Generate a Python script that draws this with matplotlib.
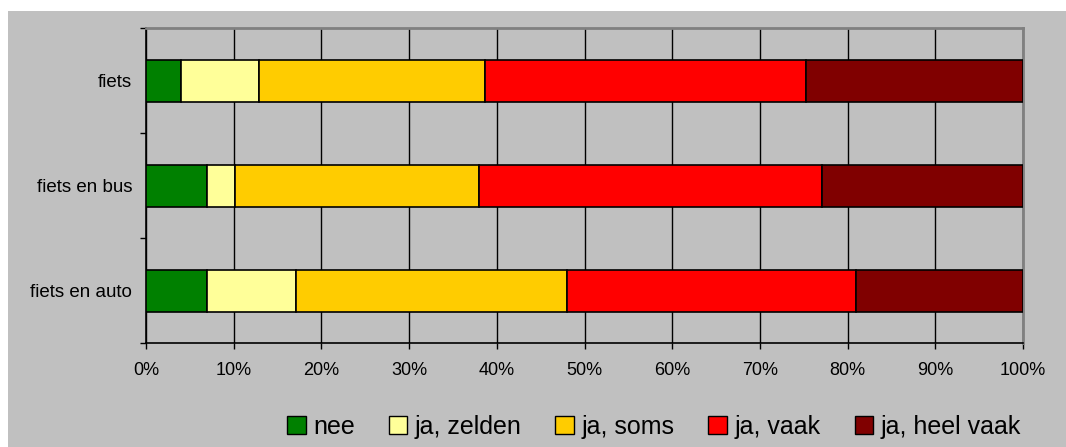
import numpy as np
import matplotlib
matplotlib.use("Agg")
from matplotlib import pyplot as plt
from matplotlib.patches import Rectangle
from matplotlib.ticker import FixedLocator, PercentFormatter

plt.rcParams['font.family'] = ['Liberation Sans', 'DejaVu Sans']

# data (percentages per category)
categories = ['fiets', 'fiets en bus', 'fiets en auto']
series = ['nee', 'ja, zelden', 'ja, soms', 'ja, vaak', 'ja, heel vaak']
nee = [4.0, 7.0, 7.0]
zelden = [8.9, 3.2, 10.1]
soms = [25.7, 27.8, 30.9]
vaak = [36.7, 39.1, 33.0]
heel_vaak = [24.7, 22.9, 19.0]
colors = ['#008000', '#FFFF99', '#FFCC00', '#FF0000', '#800000']

W, H = 1066, 447
fig = plt.figure(figsize=(W/100, H/100), dpi=100)
fig.patch.set_facecolor('white')
# grey chart area (leaves a white border top/left)
bg = Rectangle((8/W, 0), 1 - 8/W, 1 - 11/H, transform=fig.transFigure,
               facecolor='#C0C0C0', edgecolor='none', zorder=-5)
fig.add_artist(bg)

ax = fig.add_axes([146/W, 1 - 343/H, (1023 - 146)/W, (343 - 28)/H])
ax.set_facecolor('#C0C0C0')

y = np.arange(len(categories))
left = np.zeros(len(categories))
for vals, lab, c in zip([nee, zelden, soms, vaak, heel_vaak], series, colors):
    ax.barh(y, vals, left=left, height=0.4, color=c, edgecolor='black',
            linewidth=1.2, label=lab, zorder=3)
    left = left + np.array(vals)

ax.set_xlim(0, 100)
ax.set_ylim(len(categories) - 0.5, -0.5)
ax.xaxis.set_major_locator(FixedLocator(np.arange(0, 101, 10)))
ax.xaxis.set_major_formatter(PercentFormatter(decimals=0))
ax.grid(axis='x', color='black', linewidth=1, zorder=1)
ax.tick_params(axis='x', direction='out', length=4, width=1, pad=10, labelsize=13)

# y: ticks at category borders, labels in between
ax.yaxis.set_major_locator(FixedLocator(np.arange(-0.5, len(categories), 1)))
ax.yaxis.set_major_formatter(plt.NullFormatter())
ax.yaxis.set_minor_locator(FixedLocator(y))
ax.set_yticklabels(categories, minor=True)
ax.tick_params(axis='y', which='major', direction='out', length=4, width=1)
ax.tick_params(axis='y', which='minor', length=0, pad=10, labelsize=13.5)

for s in ['left', 'bottom']:
    ax.spines[s].set_color('black')
    ax.spines[s].set_linewidth(1.2)
for s in ['top', 'right']:
    ax.spines[s].set_color('#808080')
    ax.spines[s].set_linewidth(2)

leg = fig.legend(loc='center', bbox_to_anchor=(654/W, 1 - 427/H), ncol=5,
                 frameon=False, fontsize=18, handlelength=0.75, handleheight=0.75,
                 handletextpad=0.3, columnspacing=1.35)
for p in leg.get_patches():
    p.set_linewidth(1)

fig.savefig('out.png', dpi=100, facecolor=fig.get_facecolor())
